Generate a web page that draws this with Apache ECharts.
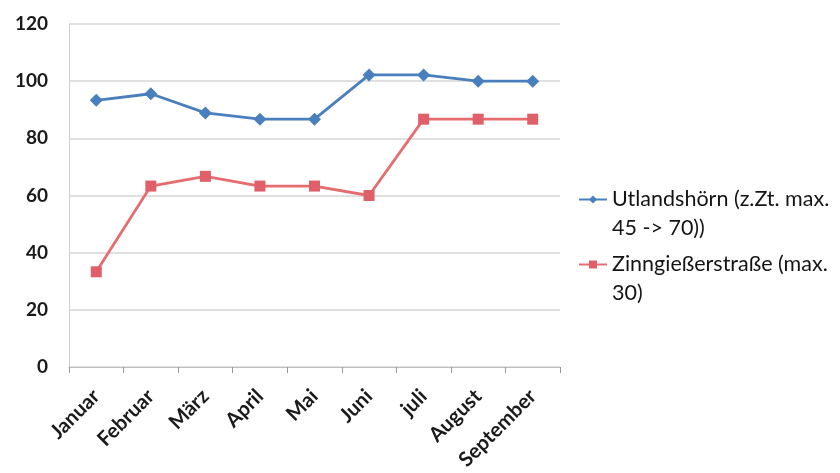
<!DOCTYPE html>
<html>
<head>
<meta charset="utf-8">
<script src="https://cdn.jsdelivr.net/npm/echarts@6/dist/echarts.min.js"></script>
<style>
  html, body { margin: 0; padding: 0; background: #ffffff; }
  #chart { width: 840px; height: 473px; }
</style>
</head>
<body>
<div id="chart"></div>
<script>
// Monthly occupancy in percent for two locations
const months = ['Januar', 'Februar', 'März', 'April', 'Mai', 'Juni', 'juli', 'August', 'September'];
const utlandshoern = [93.3, 95.6, 88.9, 86.7, 86.7, 102.2, 102.2, 100, 100];
const zinngiesserstrasse = [33.3, 63.3, 66.7, 63.3, 63.3, 60, 86.7, 86.7, 86.7];
const seriesNames = ['Utlandshörn (z.Zt. max. 45 -> 70))', 'Zinngießerstraße (max. 30)'];
// Legend entries wrap onto two lines; a blank leading line keeps the
// symbol level with the first line of text.
const legendLines = {
  'Utlandshörn (z.Zt. max. 45 -> 70))': ' \nUtlandshörn (z.Zt. max.\n45 -> 70))',
  'Zinngießerstraße (max. 30)': ' \nZinngießerstraße (max.\n30)'
};
const yTicks = { min: 0, max: 120, interval: 20 };

const fontFamily = 'Lato, "Open Sans", sans-serif';
const chart = echarts.init(document.getElementById('chart'), null, { renderer: 'canvas' });

chart.setOption({
  animation: false,
  backgroundColor: '#ffffff',
  grid: { left: 69, right: 280, top: 24, bottom: 106 },
  legend: {
    orient: 'vertical',
    left: 573,
    top: 151,
    itemWidth: 28,
    itemHeight: 10,
    itemGap: -22,
    data: seriesNames,
    formatter: name => legendLines[name],
    textStyle: {
      fontFamily,
      fontSize: 21.5,
      color: '#141414',
      lineHeight: 29
    }
  },
  xAxis: {
    type: 'category',
    data: months,
    boundaryGap: true,
    axisLine: { show: true, lineStyle: { color: '#bfbfbf', width: 1 } },
    axisTick: { show: true, length: 6, lineStyle: { color: '#9a9a9a' } },
    axisLabel: {
      rotate: 45,
      margin: 26,
      fontFamily,
      fontSize: 20.5,
      fontWeight: 'bold',
      color: '#1a1a1a'
    },
    splitLine: { show: false }
  },
  yAxis: {
    type: 'value',
    min: yTicks.min,
    max: yTicks.max,
    interval: yTicks.interval,
    axisLine: { show: true, lineStyle: { color: '#d0d0d0', width: 1 } },
    axisTick: { show: false },
    axisLabel: {
      margin: 21,
      fontFamily,
      fontSize: 19,
      fontWeight: 'bold',
      color: '#1a1a1a'
    },
    splitLine: { show: true, lineStyle: { color: '#d6d6d6', width: 1.5 } }
  },
  series: [
    {
      name: seriesNames[0],
      type: 'line',
      data: utlandshoern,
      symbol: 'diamond',
      symbolSize: 13,
      lineStyle: { color: '#4a7fbd', width: 2.8 },
      itemStyle: { color: '#4a7fbd' }
    },
    {
      name: seriesNames[1],
      type: 'line',
      data: zinngiesserstrasse,
      symbol: 'rect',
      symbolSize: 11,
      lineStyle: { color: '#e56d70', width: 2.8 },
      itemStyle: { color: '#e0606a' }
    }
  ]
});
</script>
</body>
</html>
